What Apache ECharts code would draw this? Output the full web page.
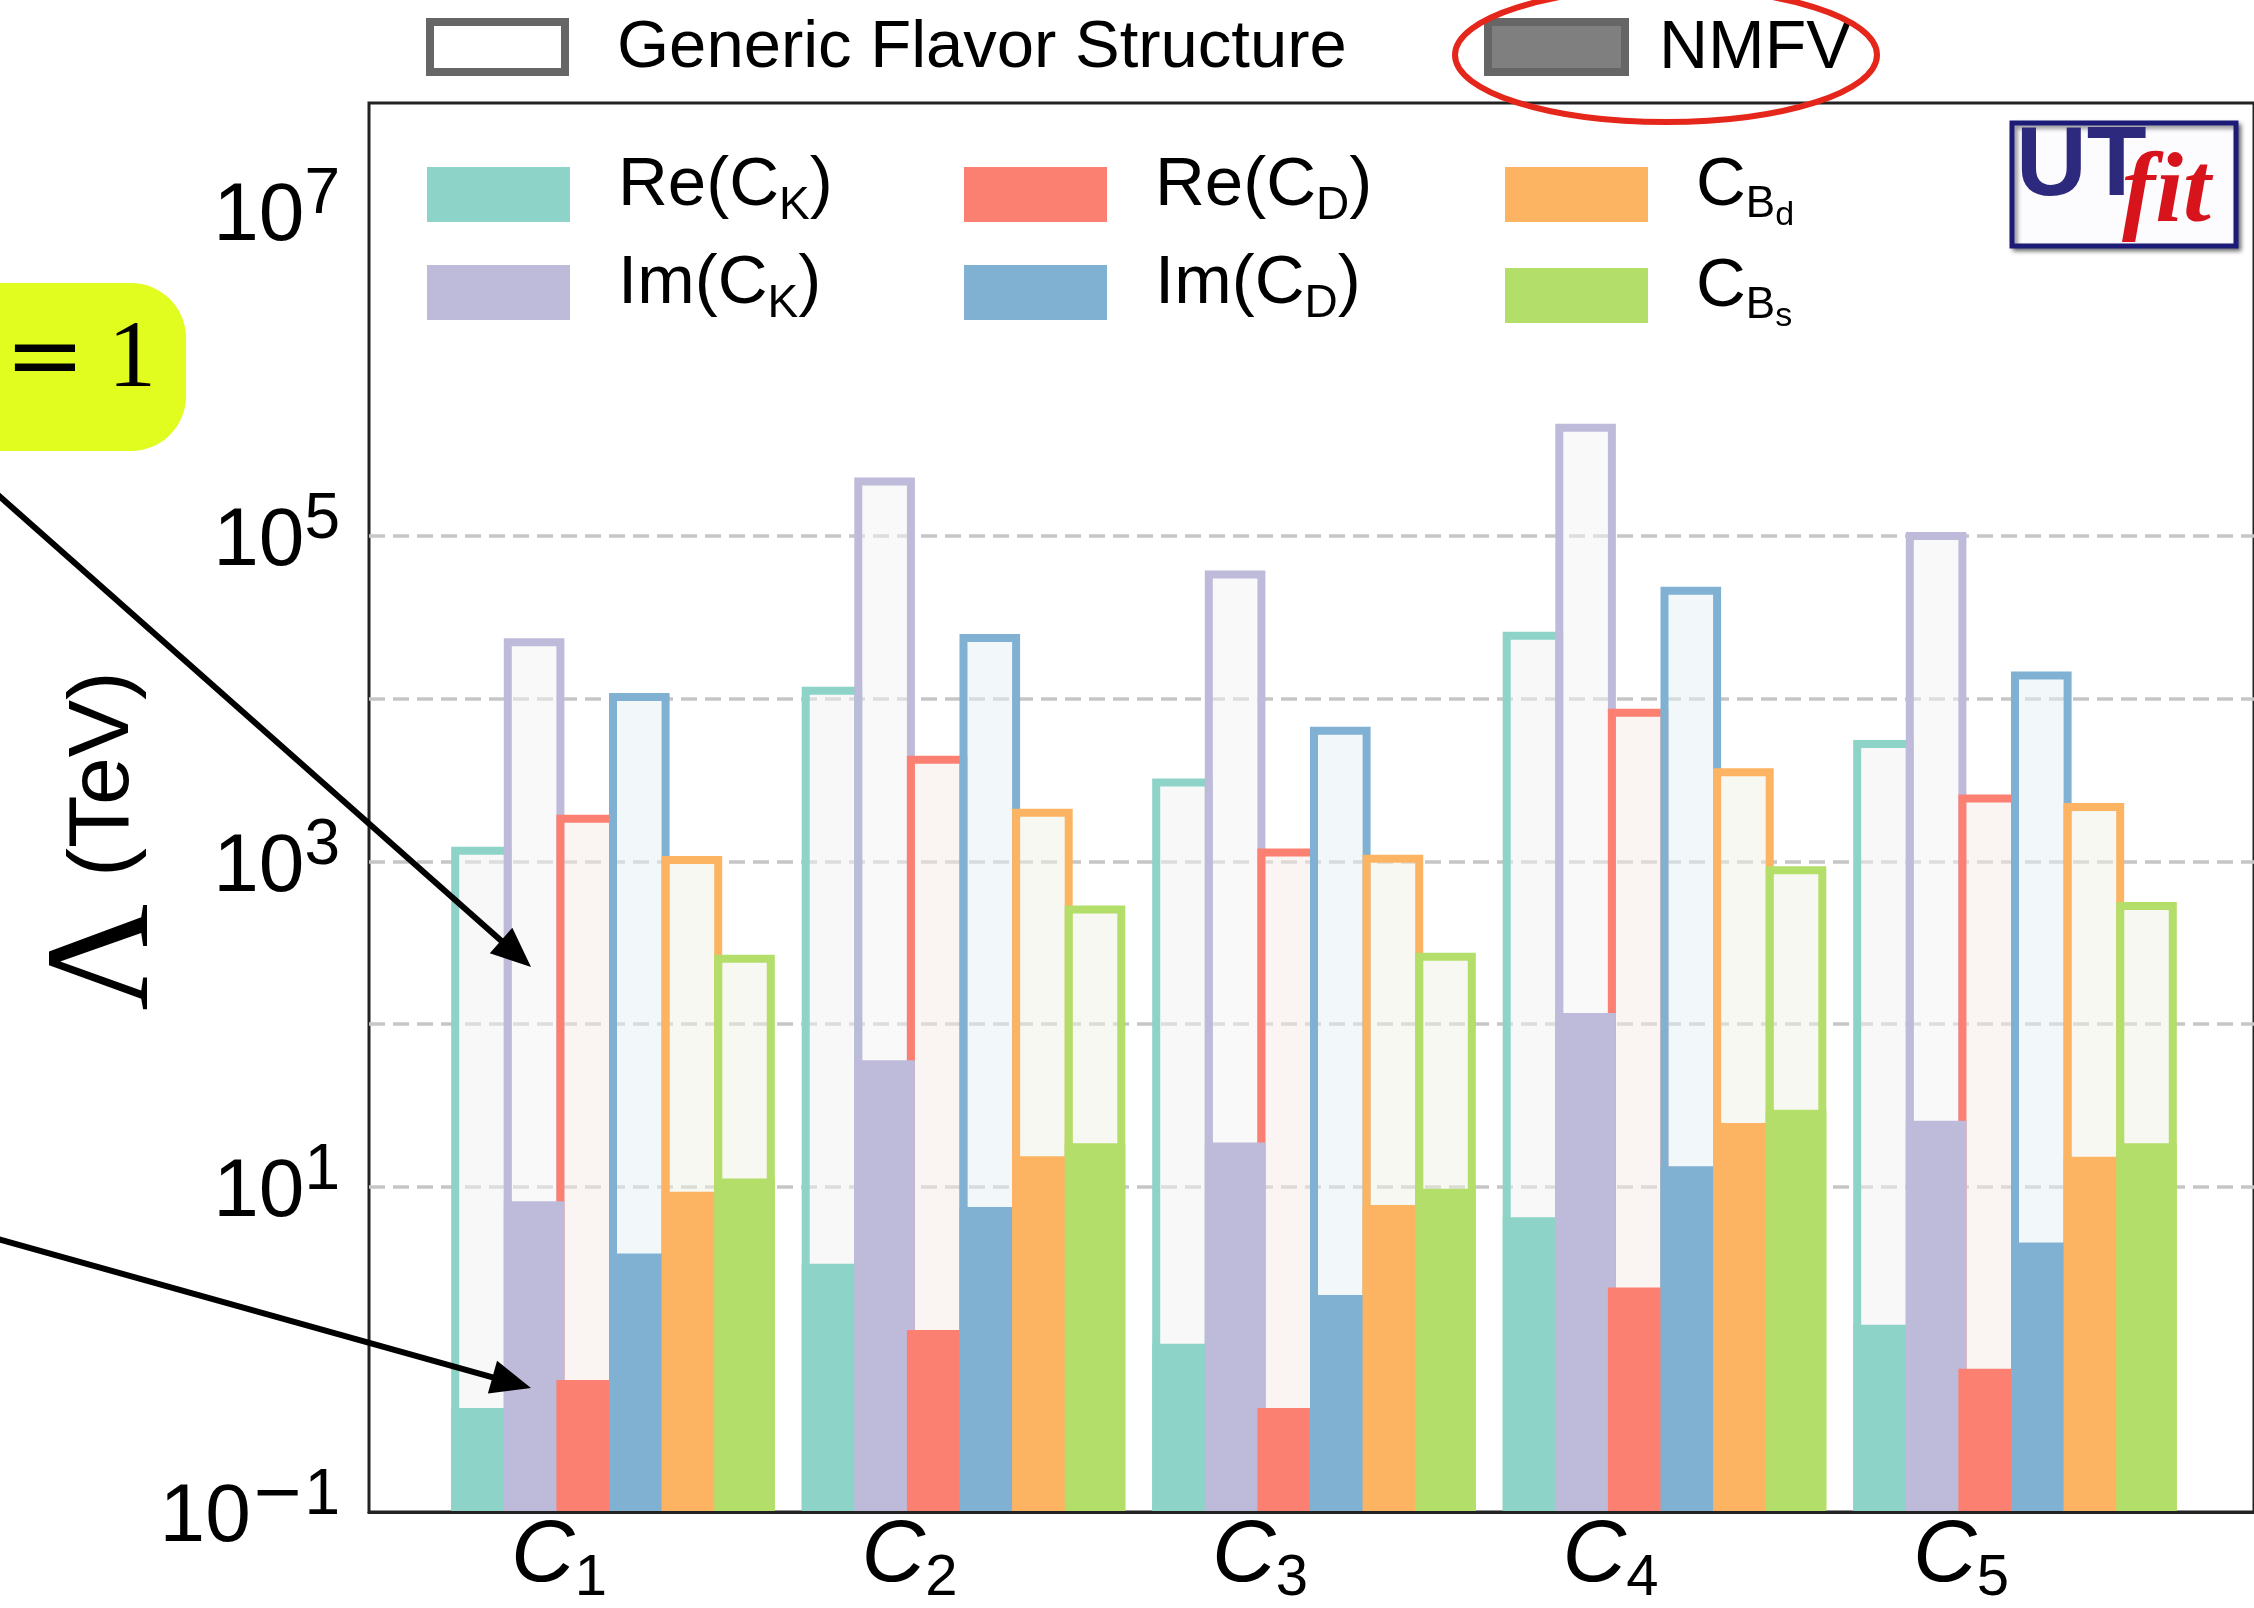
<!DOCTYPE html>
<html>
<head>
<meta charset="utf-8">
<script src="https://cdn.jsdelivr.net/npm/echarts@6/dist/echarts.min.js"></script>
<style>
html,body{margin:0;padding:0;background:#ffffff;}
#chart{width:2254px;height:1608px;}
</style>
</head>
<body>
<div id="chart"></div>
<script>
// ---------------- data ----------------
const categories = ['C1', 'C2', 'C3', 'C4', 'C5'];
const seriesNames = ['Re(CK)', 'Im(CK)', 'Re(CD)', 'Im(CD)', 'CBd', 'CBs'];

// Generic flavor structure bounds (TeV)
const genericReCK = [1220, 11800, 3210, 25700, 5550];
const genericImCK = [23400, 228000, 61100, 489000, 105400];
const genericReCD = [1920, 4430, 1190, 8630, 2560];
const genericImCD = [10800, 24900, 6680, 48600, 14600];
const genericCBd  = [1070, 2090, 1090, 3720, 2270];
const genericCBs  = [264, 531, 272, 925, 558];

// NMFV bounds (TeV)
const nmfvReCK = [0.43, 3.32, 1.07, 6.41, 1.40];
const nmfvImCK = [8.05, 59.3, 18.5, 116, 25.2];
const nmfvReCD = [0.64, 1.30, 0.43, 2.37, 0.75];
const nmfvImCD = [3.84, 7.41, 2.13, 13.2, 4.48];
const nmfvCBd  = [9.2, 15.2, 7.64, 24.4, 15.1];
const nmfvCBs  = [11.1, 18.3, 9.6, 29.4, 18.3];

// axis
const yMin = 0.1;
const yMax = 4.6e7;
const yLabelExponents = [-1, 1, 3, 5, 7];
const gridLineValues = [10, 100, 1000, 10000, 100000];

// ---------------- styles ----------------
const F = '"Liberation Sans", Arial, Helvetica, sans-serif';
const colors = ['#8dd3c7', '#bebada', '#fb8072', '#80b1d3', '#fdb462', '#b3de69'];
const genericFill = ['rgba(241,241,241,0.5)', 'rgba(243,243,243,0.5)', 'rgba(245,233,231,0.5)',
                     'rgba(229,241,243,0.5)', 'rgba(239,241,229,0.5)', 'rgba(237,241,227,0.5)'];
const genericData = [genericReCK, genericImCK, genericReCD, genericImCD, genericCBd, genericCBs];
const nmfvData = [nmfvReCK, nmfvImCK, nmfvReCD, nmfvImCD, nmfvCBd, nmfvCBs];

const legendLabels = {
  'Re(CK)': '{m0|Re(C}{k|K}{m|)}',
  'Im(CK)': '{m0|Im(C}{k|K}{m|)}',
  'Re(CD)': '{m0|Re(C}{k|D}{m|)}',
  'Im(CD)': '{m0|Im(C}{k|D}{m|)}',
  'CBd': '{m0|C}{b|B}{d|d}',
  'CBs': '{m0|C}{b|B}{d|s}'
};
const legendRich = {
  m0: {fontSize: 69, fontFamily: F, color: '#000', verticalAlign: 'top', padding: [0, 0, 0, 43]},
  m:  {fontSize: 69, fontFamily: F, color: '#000', verticalAlign: 'top'},
  k:  {fontSize: 46, fontFamily: F, color: '#000', verticalAlign: 'top', padding: [32, 0, 8, 0]},
  b:  {fontSize: 44, fontFamily: F, color: '#000', verticalAlign: 'top', padding: [31, 0, 11, 0]},
  d:  {fontSize: 34, fontFamily: F, color: '#000', verticalAlign: 'top', padding: [47, 0, 5, 0]}
};
const legendPos = [[427, 151.5], [427, 249.5], [964, 151.5], [964, 249.5], [1505, 151.5], [1505, 252.5]];

const barWidthPx = 60.6;
const barGapPct = '-13.2%';

const series = [];
// gridlines (drawn under bars)
series.push({
  type: 'line', xAxisIndex: 0, yAxisIndex: 0, data: [], silent: true, z: 1,
  markLine: {
    z: 1, silent: true, symbol: ['none', 'none'], label: {show: false}, animation: false,
    lineStyle: {type: [16, 8], color: '#c6c6c6', width: 3.5},
    emphasis: {disabled: true},
    data: gridLineValues.map(v => ({yAxis: v}))
  }
});
seriesNames.forEach((n, i) => {
  series.push({
    type: 'bar', name: n + ' generic', xAxisIndex: 1, yAxisIndex: 1,
    data: genericData[i], barWidth: barWidthPx, barGap: barGapPct, z: 2, silent: true,
    emphasis: {disabled: true},
    itemStyle: {color: genericFill[i], borderColor: colors[i], borderWidth: 8}
  });
});
seriesNames.forEach((n, i) => {
  series.push({
    type: 'bar', name: n, xAxisIndex: 2, yAxisIndex: 1,
    data: nmfvData[i], barWidth: barWidthPx, barGap: barGapPct, z: 2,
    emphasis: {disabled: true},
    itemStyle: {color: colors[i]}
  });
});

function arrow(x0, y0, x1, y1) {
  const dx = x1 - x0, dy = y1 - y0, L = Math.hypot(dx, dy), ux = dx / L, uy = dy / L;
  const hl = 40, hw = 17;
  const bx = x1 - ux * hl, by = y1 - uy * hl;
  return [
    {type: 'polyline', z: 100, silent: true, shape: {points: [[x0, y0], [bx + ux * 4, by + uy * 4]]},
     style: {stroke: '#000', lineWidth: 6, fill: null}},
    {type: 'polygon', z: 100, silent: true,
     shape: {points: [[x1, y1], [bx - uy * hw, by + ux * hw], [bx + uy * hw, by - ux * hw]]},
     style: {fill: '#000'}}
  ];
}

const graphics = [
  // top legend: generic (outline)
  {type: 'rect', z: 50, silent: true, shape: {x: 430, y: 22, width: 135, height: 50},
   style: {fill: '#fff', stroke: '#666666', lineWidth: 8}},
  {type: 'text', z: 50, silent: true, x: 617, y: 49,
   style: {text: 'Generic Flavor Structure', fontSize: 67, fontFamily: F, fill: '#000', verticalAlign: 'middle', align: 'left'}},
  // top legend: NMFV (filled)
  {type: 'rect', z: 50, silent: true, shape: {x: 1488, y: 22, width: 137, height: 50},
   style: {fill: '#7f7f7f', stroke: '#666666', lineWidth: 8}},
  {type: 'text', z: 50, silent: true, x: 1659, y: 49,
   style: {text: 'NMFV', fontSize: 68, fontFamily: F, fill: '#000', verticalAlign: 'middle', align: 'left'}},
  // red ellipse highlight
  {type: 'ellipse', z: 60, silent: true, shape: {cx: 1666, cy: 55, rx: 211, ry: 67},
   style: {fill: null, stroke: '#e5261b', lineWidth: 6}},
  // UTfit logo
  {type: 'rect', z: 50, silent: true, shape: {x: 2012, y: 123, width: 224, height: 123},
   style: {fill: '#fcfcff', stroke: '#1c1c78', lineWidth: 5, shadowBlur: 4, shadowOffsetX: 3, shadowOffsetY: 3, shadowColor: 'rgba(0,0,0,0.45)'}},
  {type: 'text', z: 51, silent: true, x: 2016, y: 168,
   style: {text: 'UT', fontSize: 98, fontWeight: 'bold', fontFamily: F, fill: '#2d2a7e', verticalAlign: 'middle', align: 'left'}},
  {type: 'text', z: 51, silent: true, x: 2122, y: 195,
   style: {text: 'fit', fontSize: 100, fontWeight: 'bold', fontStyle: 'italic', fontFamily: '"Liberation Serif", "Times New Roman", serif', fill: '#d7141c', verticalAlign: 'middle', align: 'left'}},
  // yellow annotation box
  {type: 'rect', z: 40, silent: true, shape: {x: -60, y: 283, width: 246, height: 168, r: 55},
   style: {fill: '#e1fc1f'}},
  {type: 'text', z: 41, silent: true, x: 45, y: 363,
   style: {text: '=', fontSize: 96, fontFamily: '"DejaVu Serif", serif', fill: '#000', align: 'center', verticalAlign: 'middle'}},
  {type: 'text', z: 41, silent: true, x: 132, y: 361,
   style: {text: '1', fontSize: 96, fontFamily: '"Liberation Serif", serif', fill: '#000', align: 'center', verticalAlign: 'middle'}},
  // y-axis title
  {type: 'text', z: 41, silent: true, x: 108, y: 957, rotation: Math.PI / 2,
   style: {text: 'Λ', fontSize: 148, fontFamily: '"Liberation Serif", "DejaVu Serif", serif', fill: '#000', align: 'center', verticalAlign: 'middle'}},
  {type: 'text', z: 41, silent: true, x: 104, y: 774, rotation: Math.PI / 2,
   style: {text: '(TeV)', fontSize: 86, fontFamily: F, fill: '#000', align: 'center', verticalAlign: 'middle'}}
].concat(arrow(-20, 479, 531, 967), arrow(-20, 1234, 531, 1388));

const option = {
  animation: false,
  backgroundColor: '#ffffff',
  grid: [
    {left: 369, top: 103, width: 1890, height: 1409, show: true, borderColor: '#222', borderWidth: 3, backgroundColor: 'transparent'},
    {left: 437.75, top: 103, width: 1752.5, height: 1409}
  ],
  xAxis: [
    {gridIndex: 0, type: 'value', min: 0, max: 1, z: 10,
     axisLine: {show: true, onZero: false, lineStyle: {color: '#222', width: 3}},
     axisTick: {show: false}, axisLabel: {show: false}, splitLine: {show: false}},
    {gridIndex: 1, type: 'category', data: categories,
     axisLine: {show: false}, axisTick: {show: false}, splitLine: {show: false},
     axisLabel: {
       margin: 2, padding: [0, 108, 0, 0],
       formatter: v => '{c|C}{s|' + v.slice(1) + '}',
       rich: {
         c: {fontSize: 88, fontStyle: 'italic', fontFamily: F, color: '#000', verticalAlign: 'top'},
         s: {fontSize: 58, fontFamily: F, color: '#000', verticalAlign: 'top', padding: [37, 0, 0, 0]}
       }
     }},
    {gridIndex: 1, type: 'category', data: categories, show: false}
  ],
  yAxis: [
    {gridIndex: 0, type: 'log', logBase: 10, min: yMin, max: yMax,
     axisLine: {show: false}, axisTick: {show: false}, splitLine: {show: false},
     axisLabel: {
       margin: 29,
       formatter: v => {
         const e = Math.log10(v), n = Math.round(e);
         if (Math.abs(e - n) > 1e-6 || yLabelExponents.indexOf(n) < 0) return '';
         return n < 0 ? '{b|10}{neg|−}{s|' + Math.abs(n) + '}' : '{b|10}{s|' + n + '}';
       },
       rich: {
         b: {fontSize: 82, fontFamily: F, color: '#000', verticalAlign: 'top', padding: [13, 0, 0, 0]},
         s: {fontSize: 64, fontFamily: F, color: '#000', verticalAlign: 'top'},
         neg: {fontSize: 64, fontFamily: '"DejaVu Sans", sans-serif', color: '#000', verticalAlign: 'top'}
       }
     }},
    {gridIndex: 1, type: 'log', logBase: 10, min: yMin, max: yMax, startValue: yMin, show: false}
  ],
  legend: seriesNames.map((n, i) => ({
    data: [n], left: legendPos[i][0], top: legendPos[i][1], padding: 0,
    itemWidth: 143, itemHeight: 55, icon: 'rect', itemStyle: {borderWidth: 0},
    formatter: name => legendLabels[name],
    textStyle: {rich: legendRich}
  })),
  graphic: {elements: graphics},
  series: series
};

const chart = echarts.init(document.getElementById('chart'), null, {renderer: 'canvas'});
chart.setOption(option);
</script>
</body>
</html>
